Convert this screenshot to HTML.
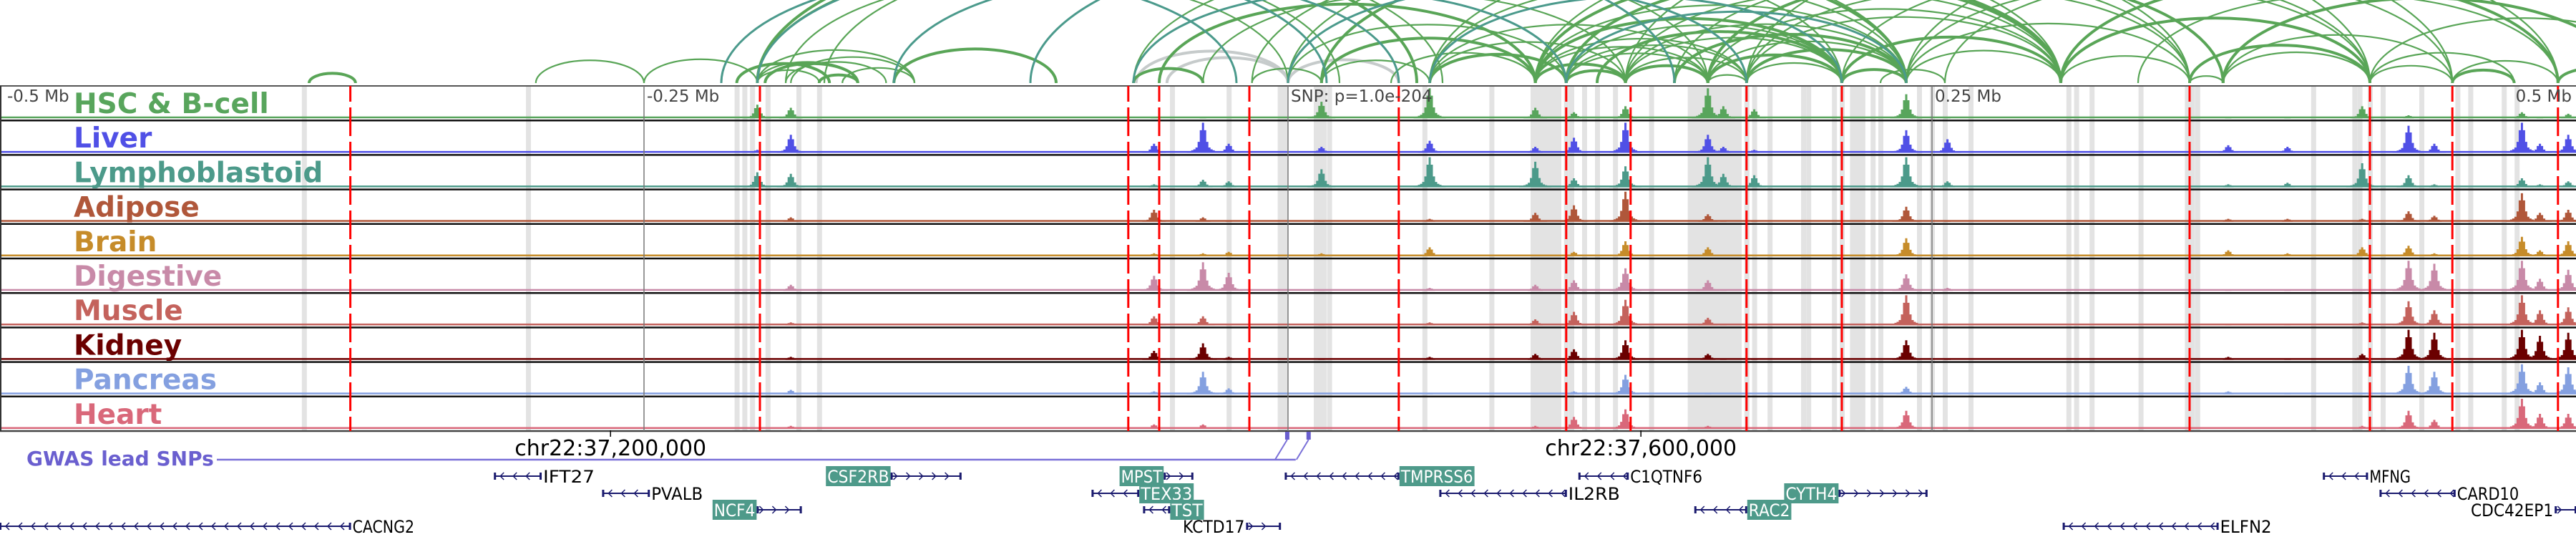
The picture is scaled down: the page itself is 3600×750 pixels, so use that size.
<!DOCTYPE html>
<html><head><meta charset="utf-8"><style>
html,body{margin:0;padding:0;background:#fff;}
svg{display:block;font-family:"DejaVu Sans","Liberation Sans",sans-serif;}
</style></head><body>
<svg id="chart" width="3600" height="750" viewBox="0 0 3600 750" xmlns="http://www.w3.org/2000/svg">
<g id="bands"></g>
<g id="arcs"></g>
<g id="tracks"></g>
<g id="vlines"></g>
<g id="labels"></g>
<g id="genes"></g>
</svg>
<script>
// ---- data ----
const trackNames = ["HSC & B-cell","Liver","Lymphoblastoid","Adipose","Brain","Digestive","Muscle","Kidney","Pancreas","Heart"];
const trackColors = ["#58a55c","#5050e6","#4c9a8a","#b0573a","#c68c2a","#c88aa8","#c4625c","#6b0000","#84a0e0","#d9687a"];
const peakKb = [-206,-193,-52,-33,-23,13,55,96,111,131,163,169,181,240,256,365,388,417,435,445,479,486,497];
const hHSC   = [.45,.35,.05,.05,.02,.55,1.0,.35,.2,.4,1.0,.4,.3,.8,.05,.05,.05,.4,.1,.02,.2,.05,.15];
const hLiver = [.1,.6,.3,1.0,.3,.2,.4,.2,.5,1.0,.6,.2,.1,.75,.45,.25,.2,.05,.9,.3,1.0,.3,.6];
const hLympho= [.5,.45,.1,.25,.2,.6,1.0,.85,.3,.7,1.0,.45,.4,1.0,.2,.1,.15,.8,.4,.1,.3,.1,.2];
const hAdip  = [.05,.15,.4,.15,.05,.05,.1,.3,.55,1.0,.25,.05,.05,.5,.05,.1,.1,.1,.35,.2,.95,.3,.4];
const hBrain = [.05,.05,.1,.1,.15,.1,.3,.05,.15,.5,.3,.05,.05,.6,.05,.2,.1,.3,.35,.1,.65,.2,.5];
const hDig   = [.05,.2,.5,.95,.6,.05,.1,.2,.35,.75,.35,.05,.05,.55,.1,.05,.05,.05,1.0,.9,1.0,.4,.7];
const hMus   = [.05,.1,.3,.3,.05,.05,.1,.2,.45,.85,.25,.05,.05,1.0,.05,.05,.05,.1,.8,.5,1.0,.5,.6];
const hKid   = [.05,.1,.3,.55,.1,.05,.1,.2,.35,.65,.2,.05,.05,.65,.05,.1,.05,.2,1.0,.9,1.0,.8,.9];
const hPan   = [.05,.15,.1,.75,.2,.02,.05,.05,.1,.65,.05,.02,.02,.25,.05,.1,.05,.05,.95,.75,1.0,.4,.9];
const hHeart = [.05,.1,.15,.15,.05,.02,.05,.1,.4,.65,.1,.02,.02,.6,.05,.05,.05,.1,.6,.3,1.0,.5,.5];
const trackHeights = [hHSC,hLiver,hLympho,hAdip,hBrain,hDig,hMus,hKid,hPan,hHeart];
const snpKb = [-364,-205,-62,-50,-15,43,108,133,178,215,350,420,452,493];
const bandKb = [-382,-295,-214,-211,-208,-202,-190,-182,-45,-23,-3,12,16,53,79,95,100,105,108,110,115,120,127,141,156,160,165,170,175,178,181,187,200,202,212,215,219,223,227,230,245,250,255,265,265,303,306,312,331,349,351,353,398,414,416,420,425,440,454,459,472,477];
const wideBandStart = [-4,10,95,156,219];
const wideBandEnd = [0,15,105,175,224];
const axisTickKb = [-500,-250,0,250,500];
const axisTickText = ["-0.5 Mb","-0.25 Mb","SNP: p=1.0e-204","0.25 Mb","0.5 Mb"];
const arcsGreen = [[-380,-362],[-292,-250],[-250,-206],[-214,-178],[-206,-167],[-206,-145],[-203,-167],[-195,-156],[-193,-145],[-182,-167],[-206,-182],[-173,-145],[-153,-90],[-206,20],[-195,0],[-60,-33],[-14,13],[13,55],[13,96],[0,108],[40,96],[55,108],[55,131],[55,163],[96,131],[96,163],[96,178],[108,131],[108,163],[108,178],[131,163],[131,178],[131,215],[96,215],[108,215],[163,178],[163,215],[163,240],[178,215],[178,240],[131,240],[96,240],[215,240],[230,255],[240,300],[215,300],[240,350],[300,350],[300,420],[350,363],[363,420],[350,420],[420,452],[363,452],[452,476],[452,493],[420,476],[493,520],[240,420],[55,240],[150,240],[163,300],[178,350],[120,215],[55,300],[96,350],[13,240],[-14,215],[131,420],[163,363],[178,452],[240,493],[300,493],[215,420],[-33,131],[-50,96],[0,240],[-60,163],[108,300],[131,300],[150,350],[96,300],[178,300],[255,452],[363,520],[420,540],[330,493],[-206,50],[-180,60]];
const arcsTeal = [[-206,15],[-153,43],[-220,-20],[-60,108],[0,178],[55,215],[108,240],[-100,150]];
const arcsGray = [[-59,0],[-47,0],[0,43]];
const genes = [
 {name:"IFT27",row:0,start:-308,end:-290,strand:-1,boxed:false,labelSide:"right"},
 {name:"CSF2RB",row:0,start:-154,end:-127,strand:1,boxed:true,labelSide:"left"},
 {name:"MPST",row:0,start:-48,end:-37,strand:1,boxed:true,labelSide:"left"},
 {name:"TMPRSS6",row:0,start:-1,end:43,strand:-1,boxed:true,labelSide:"right"},
 {name:"C1QTNF6",row:0,start:113,end:132,strand:-1,boxed:false,labelSide:"right"},
 {name:"MFNG",row:0,start:402,end:419,strand:-1,boxed:false,labelSide:"right"},
 {name:"PVALB",row:1,start:-266,end:-248,strand:-1,boxed:false,labelSide:"right"},
 {name:"TEX33",row:1,start:-76,end:-58,strand:-1,boxed:true,labelSide:"right"},
 {name:"IL2RB",row:1,start:59,end:108,strand:-1,boxed:false,labelSide:"right"},
 {name:"CYTH4",row:1,start:214,end:248,strand:1,boxed:true,labelSide:"left"},
 {name:"CARD10",row:1,start:424,end:453,strand:-1,boxed:false,labelSide:"right"},
 {name:"NCF4",row:2,start:-206,end:-189,strand:1,boxed:true,labelSide:"left"},
 {name:"TST",row:2,start:-56,end:-46,strand:-1,boxed:true,labelSide:"right"},
 {name:"RAC2",row:2,start:158,end:178,strand:-1,boxed:true,labelSide:"right"},
 {name:"CDC42EP1",row:2,start:492,end:500,strand:1,boxed:false,labelSide:"left"},
 {name:"CACNG2",row:3,start:-500,end:-364,strand:-1,boxed:false,labelSide:"right"},
 {name:"KCTD17",row:3,start:-16,end:-3,strand:1,boxed:false,labelSide:"left"},
 {name:"ELFN2",row:3,start:301,end:361,strand:-1,boxed:false,labelSide:"right"}
];
const gwasKb = [-0.3,8];
// ---- layout ----
const NS="http://www.w3.org/2000/svg";
const X0=1800, PXKB=3.6, TOP=120, TH=48.2, NT=10, ARCBASE=116;
const xs = kb => X0 + kb*PXKB;
const tBottom = i => TOP + (i+1)*TH;
function mk(tag, attrs, parent){const e=document.createElementNS(NS,tag);for(const k in attrs)e.setAttribute(k,attrs[k]);parent.appendChild(e);return e;}
const bands=document.getElementById('bands'), arcsG=document.getElementById('arcs'), tracksG=document.getElementById('tracks'), vl=document.getElementById('vlines'), lab=document.getElementById('labels'), gg=document.getElementById('genes');
bandKb.forEach(kb=>{
 const r=mk('rect',{x:xs(kb)-3,y:TOP,width:7,height:NT*TH,fill:'#e3e3e3'},bands);
 
 
});
wideBandStart.forEach((s,i)=>{
 const r=mk('rect',{x:xs(s),y:TOP,width:xs(wideBandEnd[i])-xs(s),height:NT*TH,fill:'#e3e3e3'},bands);
 
 
});
function drawArc(a,color,w){
 const x1=xs(a[0]),x2=xs(a[1]);const span=Math.abs(x2-x1);const h=0.21*span;
 const p=mk('path',{d:`M${x1},${ARCBASE} A${span/2},${h} 0 0 1 ${x2},${ARCBASE}`,fill:'none',stroke:color,'stroke-width':w},arcsG);
 
 
}
arcsGray.forEach(a=>drawArc(a,'#c6cbcb',4));
arcsGreen.forEach((a,i)=>drawArc(a,'#59a557',i%3===0?4:2.2));
arcsTeal.forEach(a=>drawArc(a,'#4b9a8c',3));
mk('rect',{x:0,y:ARCBASE+1,width:3600,height:TOP-ARCBASE-1,fill:'#fff'},arcsG);
mk('line',{x1:0,y1:TOP,x2:3600,y2:TOP,stroke:'#555','stroke-width':2},tracksG);
trackNames.forEach((nm,i)=>{
 const g=mk('g',{},tracksG);
 
 
 const base=tBottom(i)-3, col=trackColors[i], hs=trackHeights[i];
 mk('rect',{x:0,y:base-2.5,width:3600,height:2.5,fill:col},g);
 let d='';
 peakKb.forEach((kb,j)=>{
  const cx=xs(kb), H=hs[j]*42;
  for(let dx=-27;dx<=27;dx+=3){
   const bh=H*(0.8*Math.exp(-(dx/5)*(dx/5))+0.2*Math.exp(-(dx/16)*(dx/16)));
   if(bh>1) d+=`M${cx+dx-1.5},${base}h3v${-bh}h-3z`;
  }
 });
 const p=mk('path',{d:d,fill:col},g);
 
 
 mk('line',{x1:0,y1:tBottom(i),x2:3600,y2:tBottom(i),stroke:i===NT-1?'#444':'#111','stroke-width':2.5},g);
 const t=mk('text',{x:103,y:TOP+i*TH+38,fill:col,'font-size':39,'font-weight':'bold'},lab);
 t.textContent=nm;
 
 
});
mk('line',{x1:1,y1:TOP,x2:1,y2:TOP+NT*TH,stroke:'#333','stroke-width':2},tracksG);
axisTickKb.forEach((kb,i)=>{
 const x=xs(kb);
 if(i>0&&i<4) mk('line',{x1:x,y1:TOP,x2:x,y2:TOP+NT*TH,stroke:'#777','stroke-width':1.5},vl);
 const anchor=i===4?'end':'start';
 const tx=i===0?10:(i===4?3594:x+4);
 const t=mk('text',{x:tx,y:142,fill:'#444','font-size':23,'text-anchor':anchor},lab);
 t.textContent=axisTickText[i];
 
 
});
snpKb.forEach(kb=>{
 const l=mk('line',{x1:xs(kb),y1:TOP,x2:xs(kb),y2:TOP+NT*TH,stroke:'#ff0000','stroke-width':3,'stroke-dasharray':'40 8','stroke-dashoffset':'18'},vl);
 
 
});
const coordKb=[-263,137], coordText=["chr22:37,200,000","chr22:37,600,000"];
coordKb.forEach((kb,i)=>{
 const x=xs(kb);
 mk('line',{x1:x,y1:601,x2:x,y2:610,stroke:'#000','stroke-width':1.5},gg);
 const t=mk('text',{x:x,y:636,'font-size':30,'text-anchor':'middle',fill:'#000'},gg);
 t.textContent=coordText[i];
 
 
});
const gw=mk('text',{x:37,y:650,'font-size':28,'font-weight':'bold',fill:'#6a5fcf'},gg);
gw.textContent="GWAS lead SNPs";


mk('line',{x1:303,y1:642,x2:xs(gwasKb[1])-18,y2:642,stroke:'#7a70d8','stroke-width':2.5},gg);
gwasKb.forEach((kb,i)=>{
 const x=xs(kb);
 const m=mk('rect',{x:x-3,y:603,width:6,height:11,fill:'#6a5fcf'},gg);
 
 
 mk('line',{x1:x,y1:614,x2:x-17,y2:642,stroke:'#7a70d8','stroke-width':2},gg);
});
const rowY=[665,689,712,735];
genes.forEach(gn=>{
 const g=mk('g',{},gg);
 
 
 const y=rowY[gn.row], x1=xs(gn.start), x2=xs(gn.end);
 mk('line',{x1:x1,y1:y,x2:x2,y2:y,stroke:'#1a1a6e','stroke-width':2},g);
 let d='';
 for(let x=x1+8;x<x2-4;x+=18){ d+= gn.strand<0?`M${x+5},${y-5}L${x},${y}L${x+5},${y+5}`:`M${x-5},${y-5}L${x},${y}L${x-5},${y+5}`; }
 mk('path',{d:d,fill:'none',stroke:'#1a1a6e','stroke-width':1.5},g);
 mk('rect',{x:x1-1,y:y-5,width:3,height:10,fill:'#1a1a6e'},g);
 mk('rect',{x:x2-2,y:y-5,width:3,height:10,fill:'#1a1a6e'},g);
 const fs=24, tw=gn.name.length*fs*0.6;
 let lx = gn.labelSide==='right'? x2+3 : x1-3-tw;
 if(gn.boxed){
  mk('rect',{x:lx-2,y:y-14,width:tw+4,height:28,fill:'#4e9a8a'},g);
 }
 const t=mk('text',{x:lx,y:y+9,'font-size':fs,fill:gn.boxed?'#fff':'#000',textLength:tw,lengthAdjust:'spacingAndGlyphs'},g);
 t.textContent=gn.name;
 
 
});
</script>
</body></html>
